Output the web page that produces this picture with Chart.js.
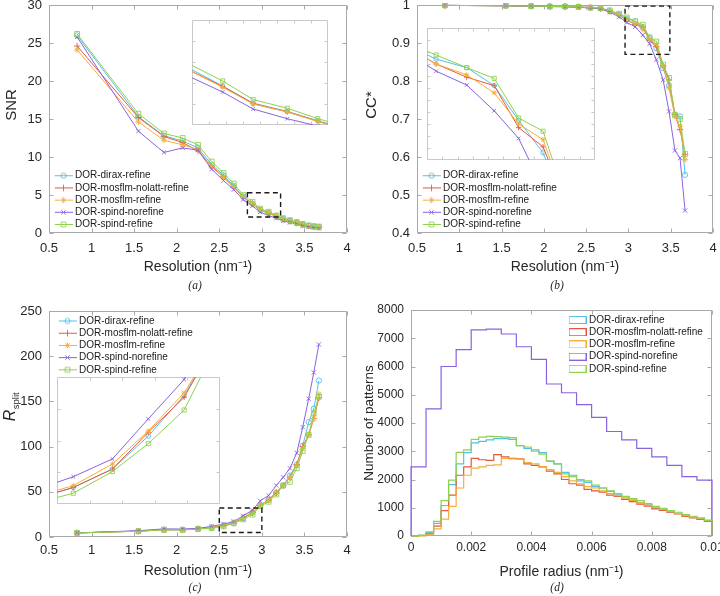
<!DOCTYPE html>
<html><head><meta charset="utf-8">
<script src="https://cdn.jsdelivr.net/npm/chart.js@4.4.1/dist/chart.umd.min.js"></script>
<style>
html,body{margin:0;padding:0;background:#fff;}
#wrap{position:relative;width:720px;height:596px;overflow:hidden;background:#fff;}
canvas{position:absolute;}
</style></head><body>
<div id="wrap">
<canvas id="ca" width="360" height="296" style="left:0;top:0"></canvas>
<canvas id="cb" width="360" height="296" style="left:360px;top:0"></canvas>
<canvas id="cc" width="360" height="300" style="left:0;top:296px"></canvas>
<canvas id="cd" width="360" height="300" style="left:360px;top:296px"></canvas>
<canvas id="ia" width="136" height="105" style="left:192px;top:20px"></canvas>
<canvas id="ib" width="168" height="132" style="left:427px;top:28px"></canvas>
<canvas id="ic" width="163" height="127" style="left:57px;top:377px"></canvas>
</div>
<script>
// ---------------- DATA ----------------
const seriesNames = ['DOR-dirax-refine','DOR-mosflm-nolatt-refine','DOR-mosflm-refine','DOR-spind-norefine','DOR-spind-refine'];
const resolution = [0.83,1.55,1.85,2.07,2.25,2.41,2.55,2.67,2.78,2.89,2.98,3.08,3.17,3.25,3.33,3.41,3.48,3.55,3.61,3.67];

const snrDirax   = [26.0,15.3,12.8,12.1,11.2,9.0,7.6,6.2,4.8,3.86,3.04,2.65,2.2,1.85,1.6,1.35,1.1,0.95,0.85,0.8];
const snrNolatt  = [24.6,15.2,12.7,11.9,10.8,8.8,7.4,6.0,4.7,3.84,3.02,2.63,2.18,1.8,1.55,1.3,1.05,0.9,0.8,0.75];
const snrMosflm  = [24.1,14.6,12.2,11.6,11.0,8.7,7.3,6.0,4.7,3.8,3.0,2.62,2.17,1.8,1.55,1.3,1.05,0.9,0.8,0.75];
const snrSpindNo = [25.8,13.4,10.6,11.2,10.9,8.4,6.9,5.7,4.4,3.57,2.76,2.30,1.95,1.6,1.4,1.2,0.95,0.8,0.7,0.6];
const snrSpindRef= [26.2,15.7,13.1,12.5,11.6,9.4,7.9,6.5,5.0,4.1,3.21,2.8,2.3,1.95,1.7,1.45,1.2,1.0,0.9,0.85];

const ccDirax   = [0.999,0.998,0.997,0.996,0.996,0.995,0.993,0.991,0.984,0.975,0.964,0.957,0.942,0.913,0.886,0.834,0.788,0.710,0.707,0.553];
const ccNolatt  = [0.999,0.998,0.997,0.996,0.996,0.995,0.993,0.991,0.984,0.973,0.960,0.949,0.942,0.907,0.891,0.840,0.803,0.712,0.672,0.607];
const ccMosflm  = [0.999,0.998,0.997,0.996,0.996,0.995,0.993,0.991,0.984,0.974,0.960,0.951,0.936,0.910,0.897,0.840,0.782,0.707,0.681,0.593];
const ccSpindNo = [0.999,0.998,0.997,0.996,0.995,0.994,0.992,0.990,0.981,0.969,0.954,0.9425,0.921,0.898,0.856,0.803,0.720,0.617,0.597,0.459];
const ccSpindRef= [0.999,0.998,0.997,0.996,0.996,0.995,0.993,0.992,0.986,0.977,0.9675,0.957,0.948,0.915,0.904,0.843,0.808,0.711,0.700,0.608];

const rsDirax   = [4.5,6.5,8.0,8.0,9.0,10.5,12.6,15.5,20.7,27.1,35,41,49,57,68,80,101,127,142,173];
const rsNolatt  = [4.5,6.5,8.0,8.0,9.0,10.5,12.6,15.5,21.3,26.8,35,41,49,57,66,80,100,113,131,154];
const rsMosflm  = [4.5,6.5,8.2,8.2,9.2,10.8,12.9,16.3,21.5,27.5,35,41,50,57,66,79,98,113,131,158];
const rsSpindNo = [4.5,7.0,9.0,8.8,9.5,11.8,14.3,17.1,23.4,29.6,40,46,57,66,76,93,121.5,153,182,213];
const rsSpindRef= [4.5,6.3,7.8,7.8,8.8,9.8,11.7,15.1,19.5,24.8,34,39,47,57,61,76,95,113,137,155];

const profileBinNarrow = 0.00025;   // bin width of the four refined histograms
const profileBinWide = 0.0005;      // bin width of the spind-norefine histogram
const histDirax   = [0,20,120,450,1080,1820,2550,2950,3300,3350,3400,3450,3450,3420,3200,3100,3050,2950,2650,2550,2250,2150,1950,1900,1750,1700,1580,1480,1380,1280,1180,1100,1000,940,860,800,720,660,600,520];
const histNolatt  = [0,15,80,350,900,1450,2150,2450,2750,2700,2680,2880,2800,2750,2730,2550,2500,2450,2300,2200,2000,1850,1800,1650,1600,1550,1450,1400,1300,1220,1130,1060,960,910,840,780,690,640,590,520];
const histMosflm  = [0,10,50,250,600,1050,1700,2150,2400,2450,2500,2520,2750,2730,2720,2600,2550,2450,2350,2250,2100,1950,1850,1750,1700,1600,1500,1430,1340,1260,1170,1090,1010,940,870,790,720,670,610,540];
const histSpindNo = [2450,4500,6000,6600,7300,7320,7150,6700,6250,5380,5070,4650,4200,3700,3400,3100,2800,2500,2100,1980];
const histSpindRef= [0,30,150,520,1250,1980,2960,3050,3420,3500,3530,3520,3500,3480,3200,3150,3000,2900,2650,2550,2200,2100,2000,1950,1800,1700,1600,1500,1400,1320,1250,1150,1050,980,900,840,760,700,640,560];

// ticks
const resTicks = [0.5,1,1.5,2,2.5,3,3.5,4];
const resTickLabels = ['0.5','1','1.5','2','2.5','3','3.5','4'];
const snrTicks = [0,5,10,15,20,25,30];
const snrTickLabels = ['0','5','10','15','20','25','30'];
const ccTicks = [0.4,0.5,0.6,0.7,0.8,0.9,1];
const ccTickLabels = ['0.4','0.5','0.6','0.7','0.8','0.9','1'];
const rsTicks = [0,50,100,150,200,250];
const rsTickLabels = ['0','50','100','150','200','250'];
const countTicks = [0,1000,2000,3000,4000,5000,6000,7000,8000];
const countTickLabels = ['0','1000','2000','3000','4000','5000','6000','7000','8000'];
const radiusTicks = [0,0.002,0.004,0.006,0.008,0.01];
const radiusTickLabels = ['0','0.002','0.004','0.006','0.008','0.01'];

// zoomed regions (x0, x1, y0, y1)
const zoomBoxA = [2.83,3.22,2.1,5.3];
const zoomBoxB = [2.96,3.49,0.87,0.997];
const zoomBoxC = [2.5,3.0,5,32];
const insetRangeA = [2.8,3.2,2.0,7.0];
const insetRangeB = [2.95,3.5,0.88,0.99];
const insetRangeC = [2.5,3.0,10,30];
const insetTicksAx = [2.85,2.9,2.95,3.0,3.05,3.1,3.15];
const insetTicksAy = [3,4,5,6];
const insetTicksBx = [3.0,3.05,3.1,3.15,3.2,3.25,3.3,3.35,3.4,3.45];
const insetTicksBy = [0.89,0.9,0.91,0.92,0.93,0.94,0.95,0.96,0.97,0.98];
const insetTicksCx = [2.6,2.7,2.8,2.9];
const insetTicksCy = [15,20,25];

// ---------------- STYLE ----------------
const FONT = '"Liberation Sans", Arial, Helvetica, sans-serif';
const colors = ['#55C0EA','#E4583E','#F6AE3C','#8A62E0','#8ED24E'];
const markers = ['circle','cross','star','crossRot','rect'];
const markerR = [2.6,3.2,3.0,3.0,3.4];
const TXT = '#262626';
const TITLESIZE = 14;
Chart.defaults.font.family = FONT;

function drawMark(g, style, cx, cy, r) {
  g.beginPath();
  if (style === 'circle') { g.arc(cx, cy, r, 0, Math.PI*2); }
  else if (style === 'cross') { g.moveTo(cx-r,cy); g.lineTo(cx+r,cy); g.moveTo(cx,cy-r); g.lineTo(cx,cy+r); }
  else if (style === 'crossRot') { const d=r*0.75; g.moveTo(cx-d,cy-d); g.lineTo(cx+d,cy+d); g.moveTo(cx-d,cy+d); g.lineTo(cx+d,cy-d); }
  else if (style === 'star') { const d=r*0.75; g.moveTo(cx-r,cy); g.lineTo(cx+r,cy); g.moveTo(cx,cy-r); g.lineTo(cx,cy+r); g.moveTo(cx-d,cy-d); g.lineTo(cx+d,cy+d); g.moveTo(cx-d,cy+d); g.lineTo(cx+d,cy-d); }
  else if (style === 'rect') { const s=r*0.707; g.rect(cx-s, cy-s, 2*s, 2*s); }
  g.stroke();
}
const lineIcons = colors.map((c,i) => {
  const cv = document.createElement('canvas'); cv.width = 19; cv.height = 9;
  const g = cv.getContext('2d'); g.strokeStyle = c; g.lineWidth = 1;
  g.beginPath(); g.moveTo(0,4.5); g.lineTo(19,4.5); g.stroke();
  g.lineWidth = 0.9; drawMark(g, markers[i], 9.5, 4.5, markerR[i]);
  return cv;
});
const boxIcons = colors.map(c => {
  const cv = document.createElement('canvas'); cv.width = 18; cv.height = 8;
  const g = cv.getContext('2d'); g.strokeStyle = c; g.lineWidth = 1;
  g.strokeRect(0.5,0.5,17,7);
  return cv;
});

// ---------------- PLUGINS ----------------
const framePlugin = {
  id: 'frame',
  beforeDraw(chart, args, o) {
    if (!o || !o.fill) return;
    const a = chart.chartArea, ctx = chart.ctx;
    ctx.save(); ctx.fillStyle = o.fill; ctx.fillRect(a.left, a.top, a.right-a.left, a.bottom-a.top); ctx.restore();
  },
  beforeDatasetsDraw(chart, args, o) {
    if (!o || !o.color) return;
    const {ctx, chartArea: a, scales} = chart;
    ctx.save(); ctx.strokeStyle = o.color; ctx.lineWidth = 1;
    const L = Math.round(a.left)+0.5, R = Math.round(a.right)-0.5, T = Math.round(a.top)+0.5, B = Math.round(a.bottom)-0.5;
    ctx.beginPath(); ctx.rect(L, T, R-L, B-T);
    (o.xTicks||[]).forEach(v => { const p = Math.round(scales.x.getPixelForValue(v))+0.5;
      ctx.moveTo(p,B); ctx.lineTo(p,B-o.len); ctx.moveTo(p,T); ctx.lineTo(p,T+o.len); });
    (o.yTicks||[]).forEach(v => { const p = Math.round(scales.y.getPixelForValue(v))+0.5;
      ctx.moveTo(L,p); ctx.lineTo(L+o.len,p); ctx.moveTo(R,p); ctx.lineTo(R-o.len,p); });
    ctx.stroke(); ctx.restore();
  },
  afterDatasetsDraw(chart, args, o) {
    if (!o || !o.box) return;
    const {ctx, scales} = chart; const b = o.box;
    const x0 = scales.x.getPixelForValue(b[0]), x1 = scales.x.getPixelForValue(b[1]);
    const y0 = scales.y.getPixelForValue(b[3]), y1 = scales.y.getPixelForValue(b[2]);
    ctx.save(); ctx.strokeStyle = '#1a1a1a'; ctx.lineWidth = 1.4; ctx.setLineDash([5,3.5]);
    ctx.strokeRect(x0, y0, x1-x0, y1-y0); ctx.restore();
  }
};
const legendPosPlugin = {
  id: 'legendPos',
  afterLayout(chart, args, o) {
    const L = chart.legend; if (!L || !o || o.x == null) return;
    const pad = L.options.labels.padding;
    const w = L.width, h = L.height;
    L.left = o.x - pad; L.top = o.y - pad; L.right = L.left + w; L.bottom = L.top + Math.max(h, 120);
  }
};
const textPlugin = {
  id: 'texts',
  afterDraw(chart, args, o) {
    if (!o) return;
    const ctx = chart.ctx, a = chart.chartArea;
    ctx.save(); ctx.fillStyle = TXT;
    if (o.ytitle) {
      const t = o.ytitle;
      ctx.translate(t.x, (a.top + a.bottom)/2 + t.dy);
      ctx.rotate(-Math.PI/2);
      ctx.textBaseline = 'middle';
      if (t.sub) {
        ctx.font = 'italic 16px ' + FONT; const w1 = ctx.measureText(t.text).width;
        ctx.font = '9.5px ' + FONT; const w2 = ctx.measureText(t.sub).width;
        const start = -(w1 + w2)/2;
        ctx.textAlign = 'left';
        ctx.font = 'italic 16px ' + FONT; ctx.fillText(t.text, start, 0);
        ctx.font = '9.5px ' + FONT; ctx.fillText(t.sub, start + w1 + 0.5, 5);
      } else {
        ctx.textAlign = 'center'; ctx.font = t.size + 'px ' + FONT; ctx.fillText(t.text, 0, 0);
      }
      ctx.setTransform(1,0,0,1,0,0);
    }
    if (o.caption) {
      ctx.font = 'italic 11.5px "Liberation Serif", "Times New Roman", serif';
      ctx.textAlign = 'center'; ctx.textBaseline = 'middle';
      ctx.fillText(o.caption.text, o.caption.x, o.caption.y);
    }
    ctx.restore();
  }
};

// ---------------- HELPERS ----------------
function xAxis(min, max, ticks, labels, title, titlePad, H, tickPad, fs) {
  return { type:'linear', min, max,
    afterBuildTicks: s => { s.ticks = ticks.map(v => ({value:v})); },
    afterFit: s => { s.height = H; s.paddingLeft = 0; s.paddingRight = 0; s.paddingTop = 0; s.paddingBottom = 0; },
    grid:{display:false, drawTicks:false}, border:{display:false},
    ticks:{ autoSkip:false, maxRotation:0, padding:tickPad, color:TXT, font:{family:FONT,size:fs}, callback:(v,i)=>labels[i] },
    title:{ display:true, text:title, color:TXT, font:{family:FONT,size:TITLESIZE}, padding:{top:0,bottom:titlePad} } };
}
function yAxis(min, max, ticks, labels, W, fs) {
  return { type:'linear', min, max,
    afterBuildTicks: s => { s.ticks = ticks.map(v => ({value:v})); },
    afterFit: s => { s.width = W; s.paddingLeft = 0; s.paddingRight = 0; s.paddingTop = 0; s.paddingBottom = 0; },
    grid:{display:false, drawTicks:false}, border:{display:false},
    ticks:{ autoSkip:false, padding:7, color:TXT, font:{family:FONT,size:fs}, callback:(v,i)=>labels[i] },
    title:{display:false} };
}
function lineSets(valsList, small) {
  return valsList.map((vals,i) => ({
    label: seriesNames[i],
    data: resolution.map((x,k) => ({x, y: vals[k]})),
    borderColor: colors[i], backgroundColor: 'rgba(0,0,0,0)', borderWidth: 1,
    pointStyle: markers[i], pointRadius: markerR[i]*(small?0.85:1), pointBorderWidth: 0.9,
    pointBackgroundColor: 'rgba(0,0,0,0)', pointBorderColor: colors[i],
    order: 5 - i, tension: 0, clip: 2
  }));
}
function legendCfg(icons) {
  return { display:true, position:'chartArea', align:'start',
    labels:{ usePointStyle:true, pointStyleWidth:13, padding:2.2, color:'#1a1a1a', font:{family:FONT,size:10},
      generateLabels: chart => {
        const items = Chart.defaults.plugins.legend.labels.generateLabels(chart);
        items.sort((p,q) => p.datasetIndex - q.datasetIndex);
        items.forEach(it => { it.pointStyle = icons[it.datasetIndex]; it.rotation = 0; });
        return items;
      } } };
}
function mainChart(id, sets, cfg) {
  return new Chart(document.getElementById(id), {
    type:'line', data:{datasets:sets},
    options:{ responsive:false, animation:false, events:[],
      layout:{ padding:cfg.padding, autoPadding:false },
      plugins:{ legend: legendCfg(cfg.icons), tooltip:{enabled:false},
        legendPos: cfg.legendPos, texts: cfg.texts,
        frame:{ color:'#a9a9a9', len:4, xTicks:cfg.xTicks, yTicks:cfg.yTicks, box:cfg.box } },
      scales:{ x: cfg.x, y: cfg.y } },
    plugins:[framePlugin, legendPosPlugin, textPlugin]
  });
}
function insetChart(id, sets, r, xt, yt) {
  return new Chart(document.getElementById(id), {
    type:'line', data:{datasets:sets},
    options:{ responsive:false, animation:false, events:[],
      layout:{ padding:0, autoPadding:false },
      plugins:{ legend:{display:false}, tooltip:{enabled:false},
        frame:{ fill:'#ffffff', color:'#c9c9c9', len:3, xTicks:xt, yTicks:yt } },
      scales:{ x:{type:'linear', display:false, min:r[0], max:r[1]}, y:{type:'linear', display:false, min:r[2], max:r[3]} } },
    plugins:[framePlugin]
  });
}
function histData(vals, w) {
  const pts = [{x:0, y:0}];
  vals.forEach((v,k) => pts.push({x:k*w, y:v}));
  pts.push({x:vals.length*w, y:vals[vals.length-1]});
  pts.push({x:vals.length*w, y:0});
  return pts;
}

// ---------------- CHARTS ----------------
const snrAll = [snrDirax, snrNolatt, snrMosflm, snrSpindNo, snrSpindRef];
const ccAll = [ccDirax, ccNolatt, ccMosflm, ccSpindNo, ccSpindRef];
const rsAll = [rsDirax, rsNolatt, rsMosflm, rsSpindNo, rsSpindRef];

mainChart('ca', lineSets(snrAll), {
  padding:{left:0, top:5, right:13, bottom:0}, icons: lineIcons,
  x: xAxis(0.5, 4, resTicks, resTickLabels, 'Resolution (nm\u207B\u00B9)', 20.6, 63, 7.2, 13),
  y: yAxis(0, 30, snrTicks, snrTickLabels, 49, 13),
  xTicks: resTicks, yTicks: snrTicks, box: zoomBoxA,
  legendPos:{x:57, y:170.7},
  texts:{ ytitle:{text:'SNR', x:12, dy:-14, size:15}, caption:{text:'(a)', x:195, y:286} }
});
mainChart('cb', lineSets(ccAll), {
  padding:{left:0, top:5, right:7, bottom:0}, icons: lineIcons,
  x: xAxis(0.5, 4, resTicks, resTickLabels, 'Resolution (nm\u207B\u00B9)', 20.6, 63, 7.2, 13),
  y: yAxis(0.4, 1, ccTicks, ccTickLabels, 57, 13),
  xTicks: resTicks, yTicks: ccTicks, box: zoomBoxB,
  legendPos:{x:65, y:170.7},
  texts:{ ytitle:{text:'CC*', x:12, dy:-14, size:15}, caption:{text:'(b)', x:197, y:286} }
});
mainChart('cc', lineSets(rsAll), {
  padding:{left:0, top:15, right:13, bottom:0}, icons: lineIcons,
  x: xAxis(0.5, 4, resTicks, resTickLabels, 'Resolution (nm\u207B\u00B9)', 16.6, 59, 5.2, 13),
  y: yAxis(0, 250, rsTicks, rsTickLabels, 49, 13),
  xTicks: resTicks, yTicks: rsTicks, box: zoomBoxC,
  legendPos:{x:61, y:20},
  texts:{ ytitle:{text:'R', sub:'split', x:11, dy:-17}, caption:{text:'(c)', x:195, y:291.7} }
});

const histAll = [histDirax, histNolatt, histMosflm, histSpindNo, histSpindRef];
const histSets = histAll.map((vals,i) => ({
  label: seriesNames[i],
  data: histData(vals, i === 3 ? profileBinWide : profileBinNarrow),
  borderColor: colors[i], backgroundColor:'rgba(0,0,0,0)', borderWidth: 1.2,
  pointRadius: 0, stepped: 'before', fill: false, order: 5 - i, clip: 2
}));
mainChart('cd', histSets, {
  padding:{left:0, top:14, right:8, bottom:0}, icons: boxIcons,
  x: xAxis(0, 0.01, radiusTicks, radiusTickLabels, 'Profile radius (nm\u207B\u00B9)', 15.6, 60, 4.5, 12),
  y: yAxis(0, 8000, countTicks, countTickLabels, 51, 12),
  xTicks: radiusTicks, yTicks: countTicks, box: null,
  legendPos:{x:211, y:19},
  texts:{ ytitle:{text:'Number of patterns', x:9.5, dy:0, size:13.5}, caption:{text:'(d)', x:197, y:291.7} }
});

insetChart('ia', lineSets(snrAll, true), insetRangeA, insetTicksAx, insetTicksAy);
insetChart('ib', lineSets(ccAll, true), insetRangeB, insetTicksBx, insetTicksBy);
insetChart('ic', lineSets(rsAll, true), insetRangeC, insetTicksCx, insetTicksCy);
</script>
</body></html>
